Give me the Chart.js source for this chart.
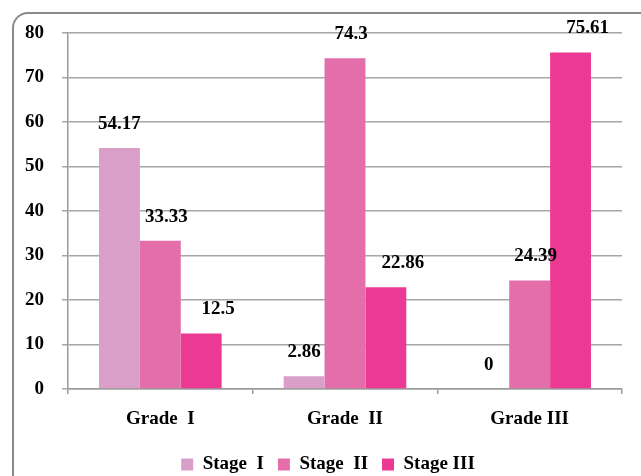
<!DOCTYPE html>
<html>
<head>
<meta charset="utf-8">
<script src="https://cdn.jsdelivr.net/npm/chart.js@4"></script>
<style>
  html, body { margin: 0; padding: 0; background: #fff; overflow: hidden; }
  #frame {
    position: absolute; left: 12px; top: 12px;
    width: 660px; height: 490px;
    border: 2px solid #8a8a8a; border-radius: 16px;
    background: #fff;
  }
  #wrap { position: absolute; left: 0; top: 0; width: 627px; height: 470px; }
</style>
</head>
<body>
<div id="frame">
  <div id="wrap"><canvas id="chart"></canvas></div>
</div>
<script>
// values
const grades = ['Grade  I', 'Grade  II', 'Grade III'];
const stageNames = ['Stage  I', 'Stage  II', 'Stage III'];
const stageI = [54.17, 2.86, 0];
const stageII = [33.33, 74.3, 24.39];
const stageIII = [12.5, 22.86, 75.61];
const yTicks = [0, 10, 20, 30, 40, 50, 60, 70, 80];

const colors = ['#D99FC8', '#E36EAA', '#EC3A94'];
const labelNudge = [0, 6, 17]; // label x shift per series (px)

const font = { family: '"Liberation Serif", "Times New Roman", serif', size: 19, weight: 'bold' };

// draws the value above each bar
const valueLabels = {
  id: 'valueLabels',
  afterLayout(chart) {
    // legend sits a little right of centre in the original
    chart.legend.left += 10;
    chart.legend.right += 10;
  },
  afterDatasetsDraw(chart) {
    const ctx = chart.ctx;
    ctx.save();
    ctx.font = `bold ${font.size}px ${font.family}`;
    ctx.fillStyle = '#000';
    ctx.textAlign = 'center';
    ctx.textBaseline = 'middle';
    chart.data.datasets.forEach((ds, i) => {
      chart.getDatasetMeta(i).data.forEach((bar, j) => {
        ctx.fillText(String(ds.data[j]), bar.x + labelNudge[i], bar.y - 24);
      });
    });
    ctx.restore();
  }
};

new Chart(document.getElementById('chart'), {
  type: 'bar',
  data: {
    labels: grades,
    datasets: [stageI, stageII, stageIII].map((vals, i) => ({
      label: stageNames[i],
      data: vals,
      backgroundColor: colors[i],
      borderWidth: 0,
      categoryPercentage: 0.664,
      barPercentage: 1
    }))
  },
  options: {
    responsive: true,
    maintainAspectRatio: false,
    animation: false,
    layout: { padding: { top: 19, left: 0, right: 19, bottom: 0 } },
    scales: {
      x: {
        grid: { drawOnChartArea: false, drawTicks: true, tickLength: 5, color: '#9a9a9a', lineWidth: 1.5 },
        border: { color: '#9a9a9a', width: 1.5 },
        ticks: { color: '#000', font: font, padding: 14 },
        afterFit: axis => { axis.height = 52; }
      },
      y: {
        min: 0,
        max: 80,
        afterBuildTicks: axis => { axis.ticks = yTicks.map(v => ({ value: v })); },
        afterFit: axis => { axis.width = 54; axis.paddingTop = 9.5; },
        grid: { color: '#a6a6a6', lineWidth: 1.5, tickLength: 6 },
        border: { color: '#9a9a9a', width: 1.5 },
        ticks: { color: '#000', font: font, padding: 18 }
      }
    },
    plugins: {
      legend: {
        position: 'bottom',
        labels: { color: '#000', font: font, boxWidth: 12, boxHeight: 12, padding: 14 }
      },
      tooltip: { enabled: false }
    }
  },
  plugins: [valueLabels]
});
</script>
</body>
</html>
